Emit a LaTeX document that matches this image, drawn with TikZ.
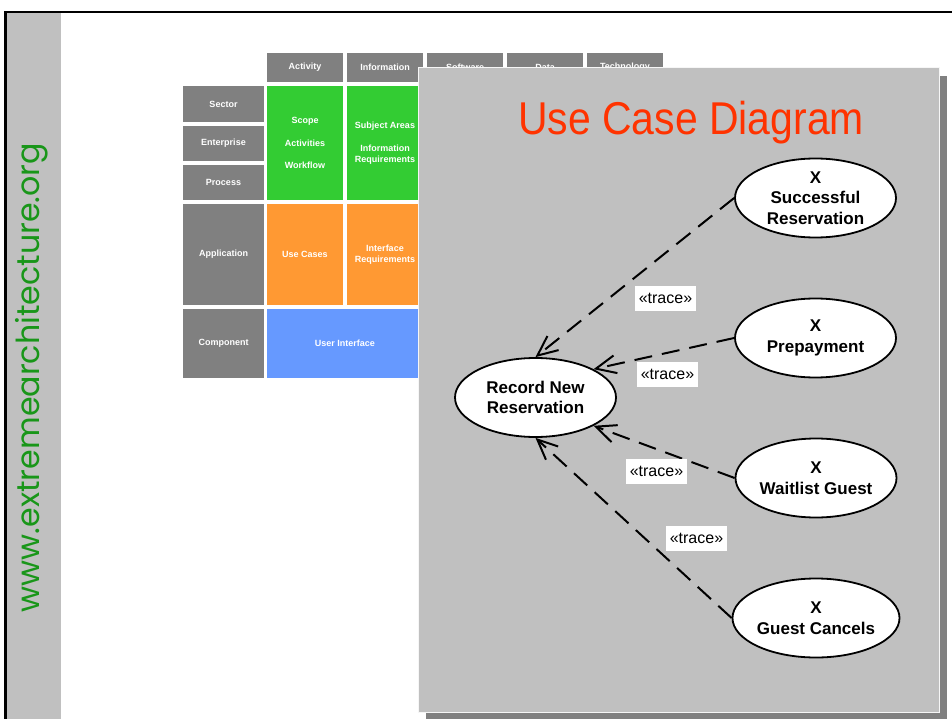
\documentclass[tikz,border=0pt]{standalone}
\usepackage{fontspec}
\setmainfont{Liberation Sans}
\newfontfamily\sidefont{Poppins}
\usetikzlibrary{shapes.geometric,arrows.meta}
\definecolor{zgray}{RGB}{128,128,128}
\definecolor{zgreen}{RGB}{51,204,51}
\definecolor{zorange}{RGB}{255,153,51}
\definecolor{zblue}{RGB}{102,153,255}
\definecolor{panelgray}{RGB}{192,192,192}
\definecolor{titlered}{RGB}{255,51,0}
\definecolor{sitegreen}{RGB}{25,150,25}
\begin{document}
\begin{tikzpicture}[x=1pt,y=-1pt,
  cell/.style={fill=#1, text=white, font=\fontsize{9}{11}\selectfont\bfseries, align=center, inner sep=0pt},
  usecase/.style={ellipse, draw=black, line width=1.8pt, fill=white, minimum width=161pt, minimum height=79pt, inner sep=0pt, align=center, font=\fontsize{17}{20.5}\selectfont\bfseries},
  tracelink/.style={line width=2pt, dash pattern=on 18pt off 10pt, -{Straight Barb[length=20pt,width=18pt]}},
  tracelbl/.style={fill=white, inner sep=0pt, minimum width=61pt, minimum height=25pt, font=\fontsize{16}{18}\selectfont}]
\useasboundingbox (0,0) rectangle (952,719);
\fill[white] (0,0) rectangle (952,719);
% left strip and frame
\fill[panelgray] (6.5,13) rectangle (61,719);
\draw[black, line width=2.5pt] (5.3,719) -- (5.3,12) -- (952,12);
\node[rotate=90, anchor=base, text=sitegreen, inner sep=0pt] (site) at (39.5,377.5) {\resizebox{469pt}{!}{\sidefont www.extremearchitecture.org}};
% grid headers
\node[cell=zgray, minimum width=76pt, minimum height=29pt] (hAct) at (305,67.5) {Activity};
\node[cell=zgray, minimum width=76pt, minimum height=29pt] (hInf) at (385,67.5) {Information};
\node[cell=zgray, minimum width=76pt, minimum height=29pt] (hSoft) at (465,67.5) {Software};
\node[cell=zgray, minimum width=76pt, minimum height=29pt] (hData) at (545,67.5) {Data};
\node[cell=zgray, minimum width=76pt, minimum height=29pt] (hTech) at (625,67.5) {Technology};
% row headers
\node[cell=zgray, minimum width=81pt, minimum height=36pt] (rSec) at (223.5,104) {Sector};
\node[cell=zgray, minimum width=81pt, minimum height=35pt] (rEnt) at (223.5,143.5) {Enterprise};
\node[cell=zgray, minimum width=81pt, minimum height=35pt] (rProc) at (223.5,182.5) {Process};
\node[cell=zgray, minimum width=81pt, minimum height=101pt] (rApp) at (223.5,254.5) {Application};
\node[cell=zgray, minimum width=81pt, minimum height=69pt] (rComp) at (223.5,343.5) {Component};
% cells
\node[cell=zgreen, minimum width=76pt, minimum height=114pt, font=\fontsize{9}{22.5}\selectfont\bfseries] (gAct) at (305,143) {Scope\\Activities\\Workflow};
\node[cell=zgreen, minimum width=76pt, minimum height=114pt] (gInf) at (385,143) {Subject Areas\\[12pt]Information\\Requirements};
\node[cell=zorange, minimum width=76pt, minimum height=101pt] (oAct) at (305,254.5) {Use Cases};
\node[cell=zorange, minimum width=76pt, minimum height=101pt] (oInf) at (385,254.5) {Interface\\Requirements};
\node[cell=zblue, minimum width=156pt, minimum height=69pt] (bUI) at (345,343.5) {User Interface};
% panel
\fill[zgray] (426,76) rectangle (947,720);
\draw[fill=panelgray, draw=white!85!panelgray, line width=1pt] (418,68) rectangle (939,712);
\node[anchor=base west, text=titlered, font=\fontsize{46}{50}\selectfont, inner sep=0pt] (title) at (518,135) {\scalebox{0.89}[1]{Use Case Diagram}};
% use cases
\node[usecase] (r) at (535.5,397.5) {Record New\\Reservation};
\node[usecase] (s) at (815.5,198) {X\\Successful\\Reservation};
\node[usecase] (p) at (815.5,338) {X\\Prepayment};
\node[usecase] (w) at (816,478) {X\\Waitlist Guest};
\node[usecase] (g) at (816,618) {X\\Guest Cancels};
% connectors
\draw[tracelink] (s.west) -- (r.north);
\draw[tracelink] (p.west) -- (r.26);
\draw[tracelink] (w.west) -- (r.-26);
\draw[tracelink] (g.west) -- (r.south);
% labels
\node[tracelbl] (l1) at (665.5,298.5) {«trace»};
\node[tracelbl] (l2) at (667.5,374.5) {«trace»};
\node[tracelbl] (l3) at (656.5,471) {«trace»};
\node[tracelbl] (l4) at (696.5,538.5) {«trace»};
\end{tikzpicture}
\end{document}
